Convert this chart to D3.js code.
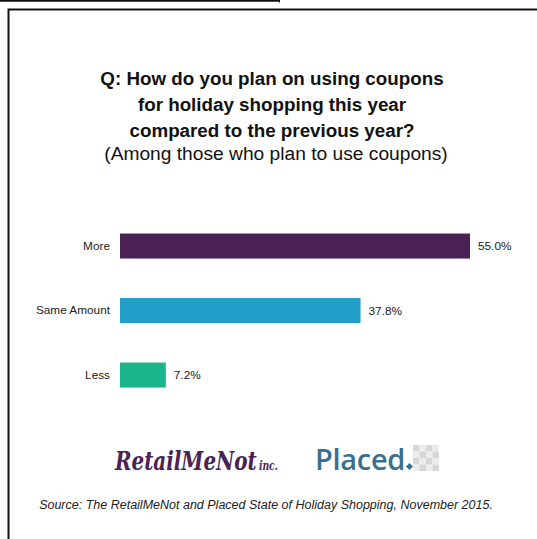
<!DOCTYPE html>
<html>
<head>
<meta charset="utf-8">
<script src="https://cdn.jsdelivr.net/npm/d3@7/dist/d3.min.js"></script>
<style>
  html, body { margin: 0; padding: 0; background: #fff; }
  svg { display: block; }
</style>
</head>
<body>
<script>
// Survey responses (percent of coupon users)
const categories = ["More", "Same Amount", "Less"];
const values = [55.0, 37.8, 7.2];
const valueLabels = ["55.0%", "37.8%", "7.2%"];
const barColors = ["#4a2354", "#229fc8", "#1cb48b"];

const titleLines = [
  "Q: How do you plan on using coupons",
  "for holiday shopping this year",
  "compared to the previous year?"
];
const subtitle = "(Among those who plan to use coupons)";
const source = "Source: The RetailMeNot and Placed State of Holiday Shopping, November 2015.";

const W = 537, H = 539;
const svg = d3.select("body").append("svg").attr("width", W).attr("height", H);
const font = "'Liberation Sans', Arial, Helvetica, sans-serif";

// Page frame
svg.append("line").attr("x1", 0).attr("x2", 280).attr("y1", 0.8).attr("y2", 0.8)
  .attr("stroke", "#111").attr("stroke-width", 2);
svg.append("line").attr("x1", 279.5).attr("x2", 279.5).attr("y1", 0).attr("y2", 2.5)
  .attr("stroke", "#111").attr("stroke-width", 1);
svg.append("path").attr("d", `M${W},9.5 H8.5 V${H}`)
  .attr("fill", "none").attr("stroke", "#111").attr("stroke-width", 2);

// Title block
const title = svg.append("g").attr("font-family", font).attr("text-anchor", "middle").attr("fill", "#111");
titleLines.forEach((t, i) => {
  title.append("text").attr("x", 272).attr("y", 85 + i * 26)
    .attr("font-size", 18.8).attr("font-weight", "bold").text(t);
});
title.append("text").attr("x", 276).attr("y", 160)
  .attr("font-size", 19.2).text(subtitle);

// Scales
const x = d3.scaleLinear().domain([0, 55]).range([120, 470]);
const y = d3.scaleBand().domain(categories).range([213.8, 407.3])
  .paddingInner(0.612).paddingOuter(0.306);

const rows = categories.map((c, i) => ({ c, v: values[i], label: valueLabels[i], color: barColors[i] }));

const bars = svg.append("g");
bars.selectAll("rect").data(rows).join("rect")
  .attr("x", x(0))
  .attr("y", d => y(d.c))
  .attr("width", d => x(d.v) - x(0))
  .attr("height", y.bandwidth())
  .attr("fill", d => d.color);

// Category labels (axis on the left, no domain line or ticks)
const yAxis = svg.append("g").attr("transform", `translate(${x(0)},0)`)
  .call(d3.axisLeft(y).tickSize(0).tickPadding(10));
yAxis.select(".domain").remove();
yAxis.selectAll("text").attr("font-family", font).attr("font-size", 11.8).attr("fill", "#222");

// Value labels
bars.selectAll("text.val").data(rows).join("text").attr("class", "val")
  .attr("x", d => x(d.v) + 8)
  .attr("y", d => y(d.c) + y.bandwidth() / 2)
  .attr("dy", "0.35em")
  .attr("font-family", font).attr("font-size", 11.8).attr("fill", "#222")
  .text(d => d.label);

// Sponsor wordmarks: RetailMeNot is set at natural size, then condensed horizontally
const rmnGroup = svg.append("g");
const rmn = rmnGroup.append("text").attr("x", 0).attr("y", 0)
  .attr("font-family", "'DejaVu Serif', serif").attr("font-style", "italic").attr("font-weight", "bold")
  .attr("fill", "#4a2354");
rmn.append("tspan").attr("font-size", 26).text("RetailMeNot");
rmn.append("tspan").attr("font-size", 12).attr("dx", 3).text("inc.");
const rmnWidth = rmn.node().getComputedTextLength() + 3;
rmnGroup.attr("transform", `translate(115,470) scale(${163 / rmnWidth},1)`);

svg.append("text").attr("x", 315).attr("y", 470)
  .attr("font-family", "'Open Sans', 'Liberation Sans', sans-serif").attr("font-weight", 600)
  .attr("fill", "#3d6f8c").attr("font-size", 29).attr("letter-spacing", -0.3).text("Placed");

// Placed mark: teal dot and grey checker diamond
svg.append("rect").attr("x", 407).attr("y", 464).attr("width", 5).attr("height", 5)
  .attr("fill", "#3d6f8c").attr("transform", "rotate(45 409.5 466.5)");
const checker = svg.append("g").attr("transform", "translate(413,445)");
const cells = d3.range(16).map(i => ({ r: Math.floor(i / 4), c: i % 4 }));
checker.selectAll("rect").data(cells).join("rect")
  .attr("x", d => d.c * 6.5).attr("y", d => d.r * 6.5)
  .attr("width", 6.5).attr("height", 6.5)
  .attr("fill", d => (d.r + d.c) % 2 === 0 ? "#d6d6d6" : "#ececec");

// Source note
svg.append("text").attr("x", 266).attr("y", 509)
  .attr("text-anchor", "middle").attr("font-family", font)
  .attr("font-style", "italic").attr("font-size", 12.5).attr("fill", "#222").text(source);
</script>
</body>
</html>
